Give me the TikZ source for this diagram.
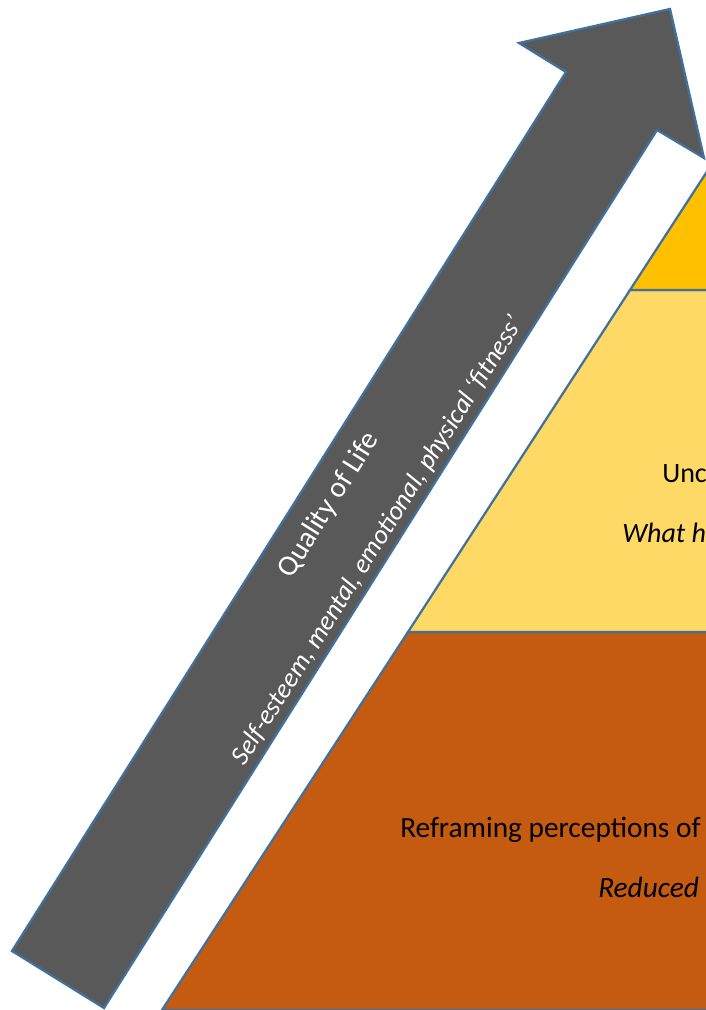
\documentclass[tikz,border=0pt]{standalone}
\usepackage{fontspec}
\setmainfont{Carlito}
\usepackage{xcolor}
\usetikzlibrary{positioning,calc}

\definecolor{arrowgrey}{HTML}{595959}
\definecolor{edgeblue}{HTML}{41719C}
\definecolor{topgold}{HTML}{FFC000}
\definecolor{midsand}{HTML}{FFD966}
\definecolor{baserust}{HTML}{C55A11}

\tikzset{
  layer/.style={draw=edgeblue, line width=1.7pt, line join=miter},
  arrowtext/.style={white, font=\fontsize{22}{26}\selectfont, inner sep=0pt, rotate=57.8},
  layertext/.style={black, font=\fontsize{22}{26}\selectfont, inner sep=0pt, anchor=base west}
}

\begin{document}
\begin{tikzpicture}[x=0.75pt, y=-0.75pt]
        % Frame of the page
        \useasboundingbox (0,0) rectangle (706,1010);
        \clip (0,0) rectangle (706,1010);

        % Pyramid corners (left edge, apex outside the frame)
        \coordinate (apex) at (747,110);
        \coordinate (l1) at (630,290);
        \coordinate (l2) at (408,632);
        \coordinate (l3) at (162,1010);
        \coordinate (r1) at (864,290);
        \coordinate (r2) at (1086,632);
        \coordinate (r3) at (1332,1010);

        % Base layer
        \fill[baserust] (l2) -- (r2) -- (r3) -- (l3) -- cycle;
        \draw[layer] (l2) -- (r2) -- (r3) -- (l3) -- cycle;

        % Middle layer
        \fill[midsand] (l1) -- (r1) -- (r2) -- (l2) -- cycle;
        \draw[layer] (l1) -- (r1) -- (r2) -- (l2) -- cycle;

        % Top layer
        \fill[topgold] (apex) -- (r1) -- (l1) -- cycle;
        \draw[layer] (apex) -- (r1) -- (l1) -- cycle;

        % Layer texts
        \node[layertext, font=\fontsize{21}{25}\selectfont] (undtext) at (662,482) {Unc};
        \node[layertext, font=\fontsize{21}{25}\selectfont\itshape] (whattext) at (622,542) {What h};
        \node[layertext] (reftext) at (400,837) {Reframing perceptions of};
        \node[layertext, font=\fontsize{22}{26}\selectfont\itshape] (redtext) at (598,897) {Reduced};

        % Quality of life arrow
        \draw[layer, fill=arrowgrey]
            (12,951) -- (566,72) -- (519,43) -- (670,9)
            -- (704,158) -- (657,130) -- (104,1008) -- cycle;

        % Arrow labels
        \node[arrowtext] (qoltext) at (329,505) {Quality of Life};
        \node[arrowtext, font=\fontsize{20}{24}\selectfont\itshape] (fittext) at (378,541)
            {Self-esteem, mental, emotional, physical ‘fitness’};
    \end{tikzpicture}
\end{document}
